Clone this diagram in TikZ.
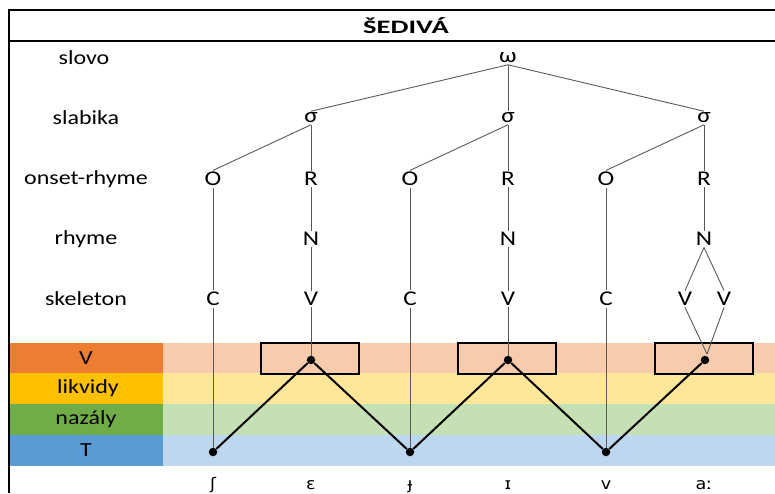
\documentclass[tikz,border=0pt]{standalone}
\usepackage{fontspec}
\setmainfont{Carlito}[FakeStretch=1.2]
\newfontfamily\titlefont{Carlito}[FakeStretch=1.5]
\newfontfamily\ipafont{DejaVu Sans}[FakeStretch=1.1]
\definecolor{vband}{HTML}{ED7D31}
\definecolor{vlight}{HTML}{F8CBAD}
\definecolor{lband}{HTML}{FFC000}
\definecolor{llight}{HTML}{FFE699}
\definecolor{nband}{HTML}{70AD47}
\definecolor{nlight}{HTML}{C5E0B4}
\definecolor{tband}{HTML}{5B9BD5}
\definecolor{tlight}{HTML}{BDD7EE}

\tikzset{
  lev/.style={font=\fontsize{20}{22}\selectfont, inner sep=2pt},
  tn/.style={font=\fontsize{21}{23}\selectfont, inner sep=1.5pt},
  branch/.style={draw=black!65, line width=0.9pt},
  dot/.style={circle, fill=black, inner sep=0pt, minimum size=8.5pt},
  zig/.style={line width=2pt},
  slot/.style={draw=black, line width=1.5pt, fill=vlight, minimum width=98pt, minimum height=31pt, inner sep=0pt},
}

\begin{document}
\begin{tikzpicture}[x=1pt,y=-1pt]
  \useasboundingbox (0,0) rectangle (775,493);

  % tiers
  \fill[vlight] (163,343) rectangle (775,373);
  \fill[llight] (163,373) rectangle (775,404);
  \fill[nlight] (163,404) rectangle (775,435);
  \fill[tlight] (163,435) rectangle (775,466);
  \fill[vband] (9,343) rectangle (163,373);
  \fill[lband] (9,373) rectangle (163,404);
  \fill[nband] (9,404) rectangle (163,435);
  \fill[tband] (9,435) rectangle (163,466);
  \node[lev] (labV)  at (86,358) {V};
  \node[lev] (labL)  at (88,388.5) {likvidy};
  \node[lev] (labN)  at (86,419.5) {nazály};
  \node[lev] (labT)  at (86,450.5) {T};

  % frame
  \draw[line width=1.5pt] (775,10) -- (9,10) -- (9,493);
  \draw[line width=1.5pt] (9,41) -- (775,41);
  \node[font=\titlefont\fontsize{19}{21}\selectfont\bfseries] (title) at (406,26) {ŠEDIVÁ};

  % row names
  \node[lev] (rSlovo)  at (84,58)  {slovo};
  \node[lev] (rSlab)   at (86,118) {slabika};
  \node[lev] (rOnset)  at (86,179) {onset-rhyme};
  \node[lev] (rRhyme)  at (86,239) {rhyme};
  \node[lev] (rSkel)   at (86,299) {skeleton};

  % tree
  \node[tn] (w)  at (508,58)  {ω};
  \node[tn] (s1) at (311,118) {σ};
  \node[tn] (s2) at (508,118) {σ};
  \node[tn] (s3) at (704,118) {σ};
  \node[tn] (o1) at (213,179) {O};
  \node[tn] (r1) at (311,179) {R};
  \node[tn] (o2) at (410,179) {O};
  \node[tn] (r2) at (508,179) {R};
  \node[tn] (o3) at (606,179) {O};
  \node[tn] (r3) at (704,179) {R};
  \node[tn] (n1) at (311,239) {N};
  \node[tn] (n2) at (508,239) {N};
  \node[tn] (n3) at (704,239) {N};
  \node[tn] (c1) at (213,299) {C};
  \node[tn] (v1) at (311,299) {V};
  \node[tn] (c2) at (410,299) {C};
  \node[tn] (v2) at (508,299) {V};
  \node[tn] (c3) at (606,299) {C};
  \node[tn] (v3a) at (685,299) {V};
  \node[tn] (v3b) at (724,299) {V};

  \draw[branch] (w.south) -- (s1.north);
  \draw[branch] (w.south) -- (s2.north);
  \draw[branch] (w.south) -- (s3.north);
  \foreach \s/\o/\r/\n in {s1/o1/r1/n1, s2/o2/r2/n2, s3/o3/r3/n3} {
    \draw[branch] (\s.south) -- (\o.north);
    \draw[branch] (\s.south) -- (\r.north);
    \draw[branch] (\r.south) -- (\n.north);
  }
  \draw[branch] (o1.south) -- (c1.north);
  \draw[branch] (o2.south) -- (c2.north);
  \draw[branch] (o3.south) -- (c3.north);
  \draw[branch] (n1.south) -- (v1.north);
  \draw[branch] (n2.south) -- (v2.north);
  \draw[branch] (n3.south) -- (v3a.north);
  \draw[branch] (n3.south) -- (v3b.north);

  % slots and sonority curve
  \node[slot] (box1) at (310,358.5) {};
  \node[slot] (box2) at (507,358.5) {};
  \node[slot] (box3) at (704,358.5) {};
  \node[dot] (pV1) at (311,360) {};
  \node[dot] (pV2) at (508,360) {};
  \node[dot] (pV3) at (705,360) {};
  \node[dot] (pT1) at (213,452) {};
  \node[dot] (pT2) at (410,452) {};
  \node[dot] (pT3) at (606,452) {};
  \coordinate (meet) at (707,354);

  \draw[branch] (c1.south) -- (pT1.north);
  \draw[branch] (c2.south) -- (pT2.north);
  \draw[branch] (c3.south) -- (pT3.north);
  \draw[branch] (v1.south) -- (pV1.north);
  \draw[branch] (v2.south) -- (pV2.north);
  \draw[branch] (v3a.south) -- (meet);
  \draw[branch] (v3b.south) -- (meet);

  \draw[zig] (pT1) -- (pV1) -- (pT2) -- (pV2) -- (pT3) -- (pV3);

  % segments
  \foreach \x/\seg [count=\i] in {213/ʃ, 311/ɛ, 410/ɟ, 508/ɪ, 606/v, 704/aː}
    \node[tn, font=\ipafont\fontsize{16}{18}\selectfont, anchor=base] (seg\i) at (\x,489) {\seg};
\end{tikzpicture}
\end{document}
